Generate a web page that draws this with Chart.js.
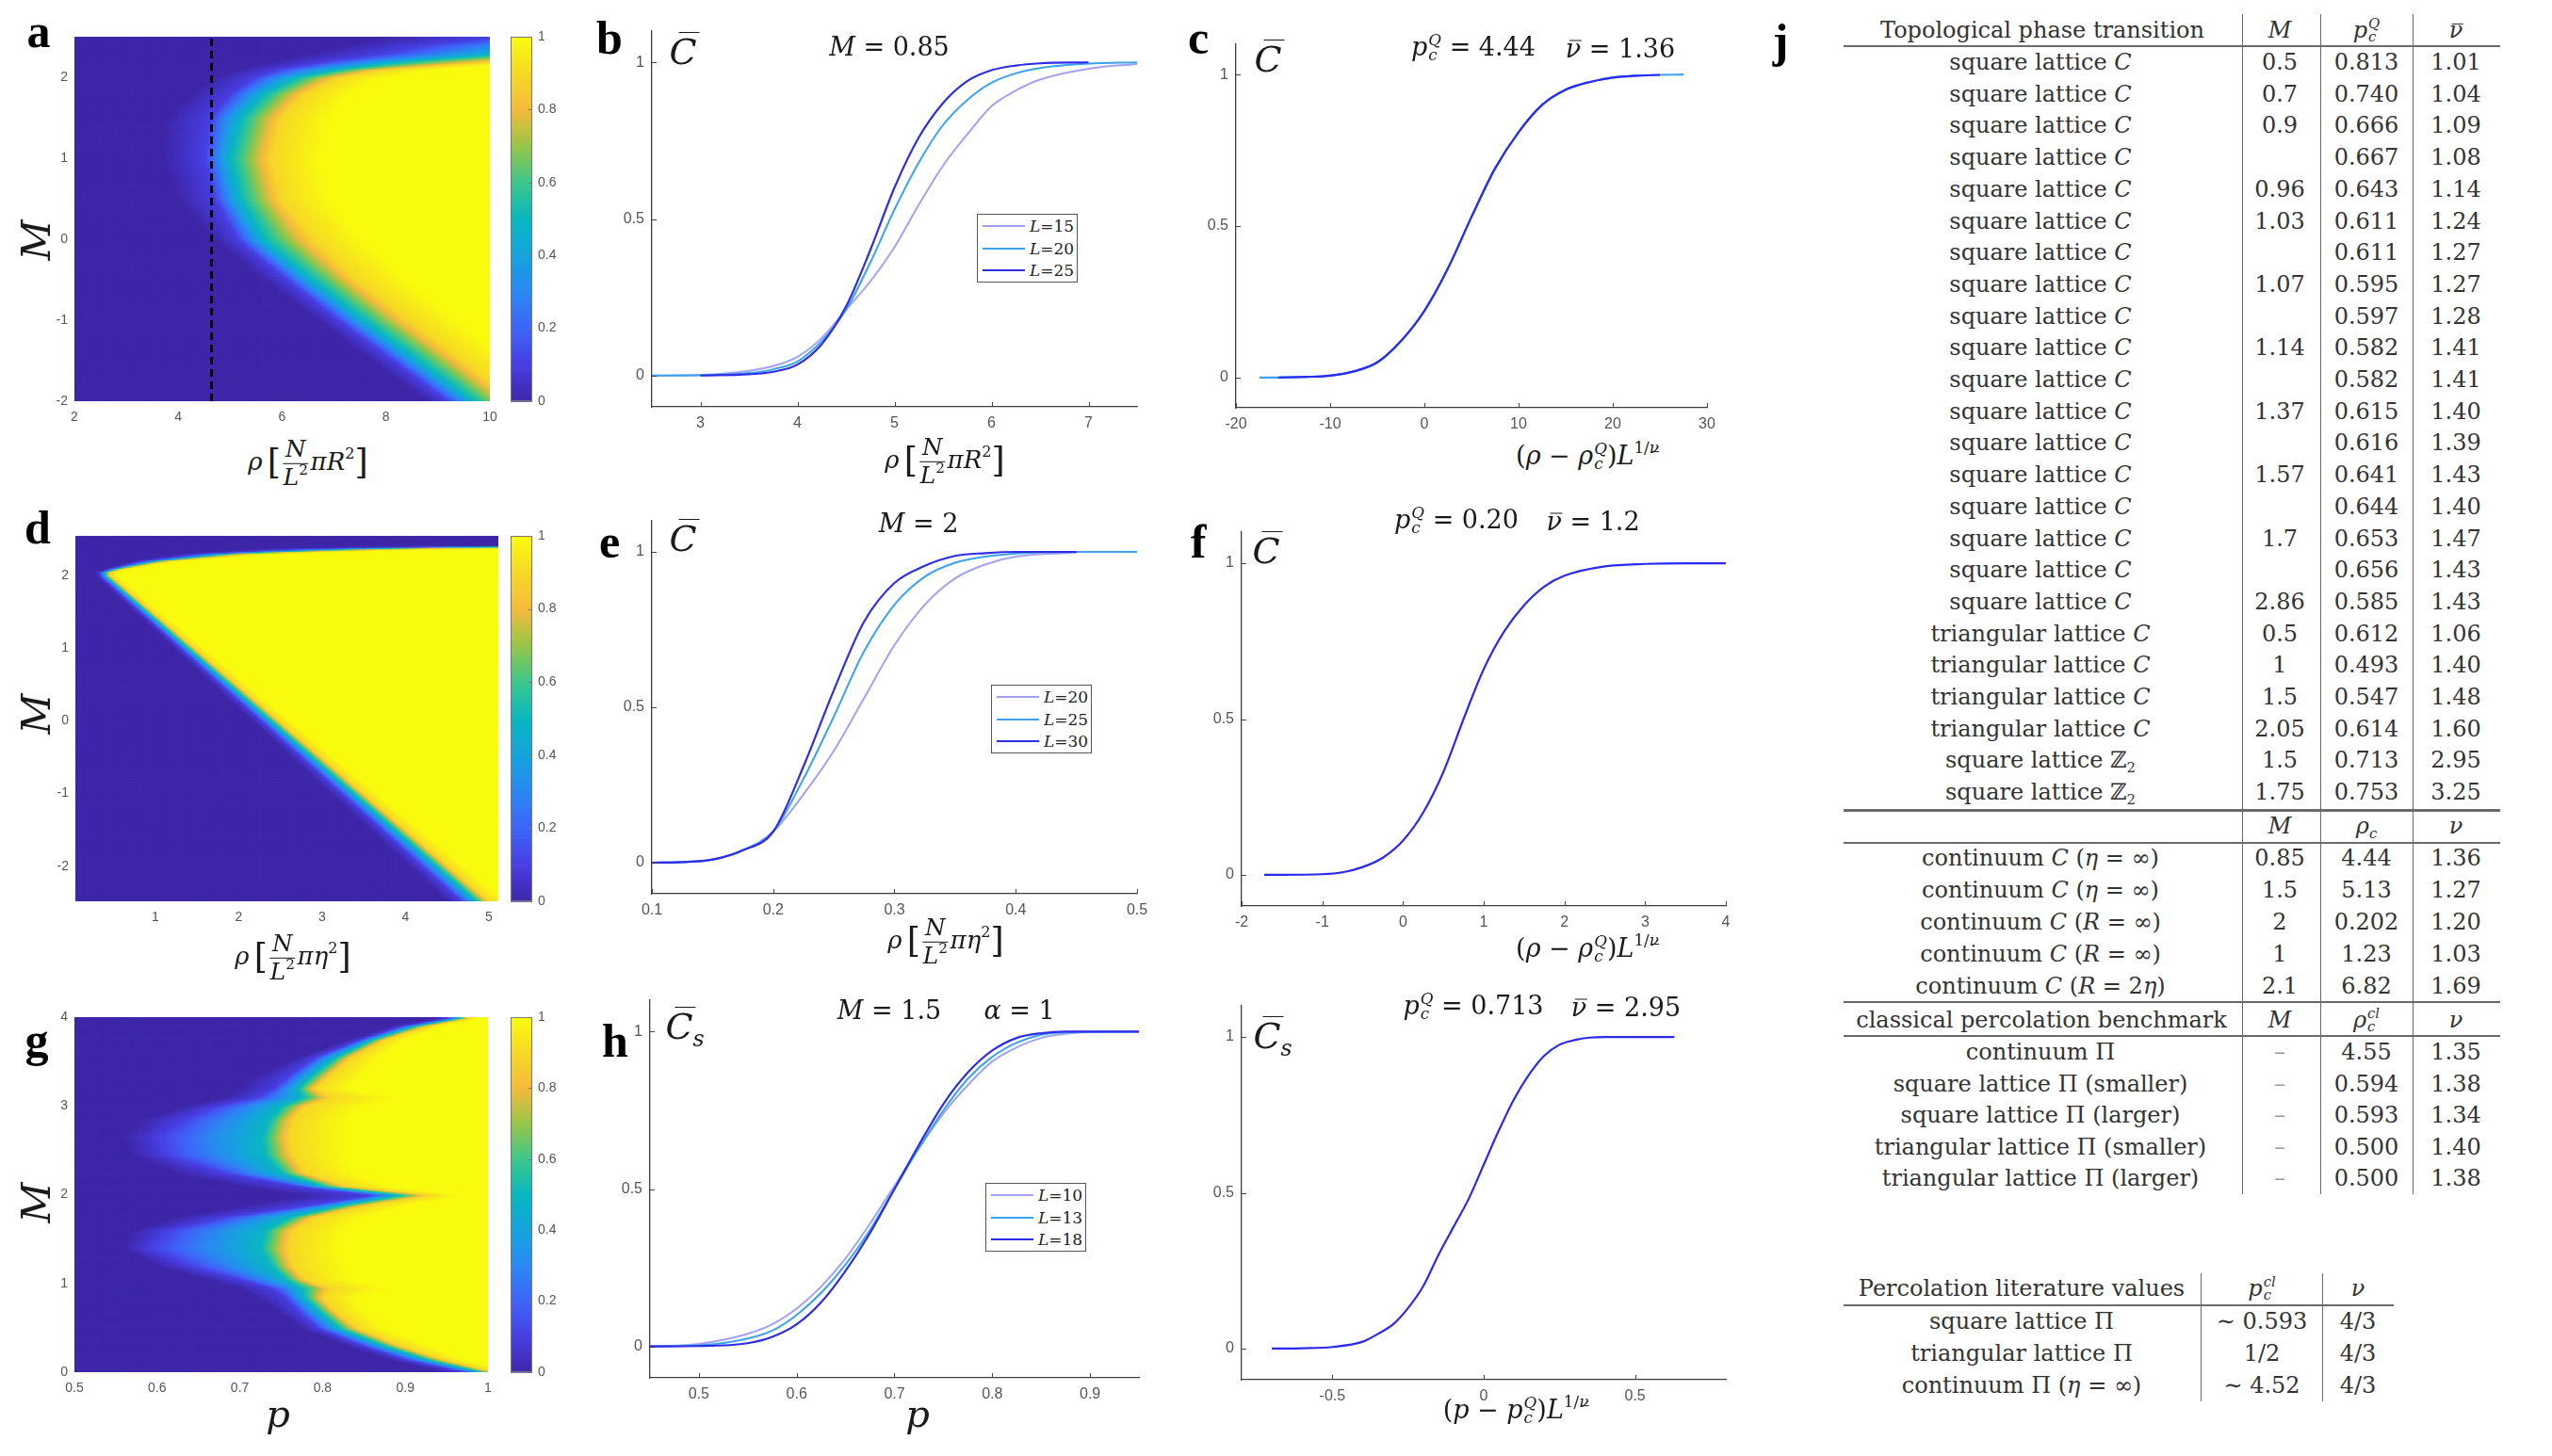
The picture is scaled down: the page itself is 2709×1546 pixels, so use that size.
<!DOCTYPE html>
<html><head><meta charset="utf-8">
<script src="https://cdn.jsdelivr.net/npm/chart.js@4.4.1/dist/chart.umd.min.js"></script>
<script>
// ================= DATA =================
// Heatmap rows: for each M, rho (or p) where C reaches 0, 0.1, 0.5, 0.9, 1
const aM    = [-2.0,-1.5,-1.0,-0.5, 0.0, 0.5, 1.0, 1.5, 1.8, 2.0, 2.1, 2.2, 2.3, 2.4, 2.5];
const aC0   = [ 8.8, 7.75,6.7, 5.65,4.7, 4.0, 3.7, 3.75,4.25,4.7, 5.15,5.75,6.5, 7.2, 8.0];
const aC10  = [ 9.2, 8.15,7.1, 6.1, 5.15,4.7, 4.5, 4.6, 5.0, 5.45,5.9, 6.85,7.95,8.7, 10.0];
const aC50  = [ 9.7, 8.65,7.6, 6.6, 5.65,5.2, 5.0, 5.2, 5.65,6.25,7.05,8.3, 10.3,11.5,14.0];
const aC90  = [10.5, 9.5, 8.45,7.45,6.6, 6.0, 5.8, 6.0, 6.45,7.1, 7.95,10.2,12.0,14.0,17.0];
const aC100 = [11.4,10.4, 9.4, 8.4, 7.6, 6.9, 6.75,6.95,7.3, 7.9, 9.0, 11.0,13.0,16.0,19.0];
const aDashRho = 4.64;
const aXTicks = [2,4,6,8,10], aYTicks = [-2,-1,0,1,2];

const dM    = [-2.48,2.0, 2.05,2.1, 2.2, 2.3, 2.35,2.38,2.41,2.45,2.54];
const dC0   = [4.51, 0.28,0.28,0.40,0.70,1.25,1.9, 2.4, 4.0, 18, 18];
const dC10  = [4.68, 0.34,0.34,0.47,0.85,1.55,2.4, 3.2, 5.0, 19, 19];
const dC50  = [4.86, 0.40,0.40,0.55,1.00,1.85,2.9, 3.9, 6.0, 20, 20];
const dC90  = [5.01, 0.46,0.46,0.63,1.15,2.15,3.4, 4.6, 7.0, 21, 21];
const dC100 = [5.21, 0.55,0.55,0.73,1.30,2.45,3.9, 5.4, 8.0, 22, 22];
const dXTicks = [1,2,3,4,5], dYTicks = [-2,-1,0,1,2];

const gM    = [0.0, 0.15,0.3, 0.5, 0.7, 0.85,0.95,1.05,1.2, 1.4, 1.6, 1.75,1.88,2.0, 2.1, 2.25,2.45,2.65,2.85,3.0, 3.1, 3.2, 3.35,3.55,3.75,3.9, 4.0];
const gC0   = [0.95,0.88,0.83,0.775,0.745,0.72,0.70,0.66,0.60,0.56,0.57,0.62,0.70,0.78,0.70,0.62,0.57,0.56,0.58,0.63,0.68,0.70,0.72,0.77,0.83,0.88,0.94];
const gC10  = [0.975,0.90,0.85,0.795,0.77,0.755,0.74,0.70,0.64,0.59,0.61,0.68,0.78,0.86,0.77,0.68,0.61,0.60,0.63,0.67,0.72,0.74,0.76,0.79,0.845,0.895,0.955];
const gC50  = [0.995,0.925,0.875,0.82,0.795,0.778,0.775,0.755,0.738,0.725,0.73,0.76,0.82,0.895,0.80,0.75,0.73,0.727,0.735,0.75,0.775,0.77,0.787,0.815,0.86,0.91,0.97];
const gC90  = [1.01,0.945,0.895,0.843,0.815,0.80,0.81,0.78,0.765,0.76,0.765,0.79,0.85,0.93,0.83,0.78,0.765,0.76,0.765,0.78,0.81,0.79,0.81,0.835,0.875,0.925,0.98];
const gC100 = [1.03,0.97,0.93,0.875,0.85,0.84,0.88,0.83,0.83,0.82,0.83,0.85,0.90,0.97,0.88,0.84,0.83,0.83,0.83,0.85,0.89,0.83,0.85,0.87,0.90,0.945,0.995];
const gXTicks = [0.5,0.6,0.7,0.8,0.9,1], gYTicks = [0,1,2,3,4];
const cbTicks = [0,0.2,0.4,0.6,0.8,1];

// Panel b (M = 0.85)
const bRho = [2.5,3,3.5,3.75,4,4.25,4.5,4.75,5,5.25,5.5,5.75,6,6.25,6.5,7,7.5];
const bL15 = [0,0.002,0.015,0.03,0.06,0.12,0.21,0.30,0.41,0.545,0.67,0.77,0.86,0.91,0.945,0.98,0.995];
const bL20 = [0,0.001,0.008,0.02,0.045,0.11,0.21,0.36,0.53,0.68,0.80,0.88,0.935,0.965,0.982,0.996,1];
const bL25 = [null,0,0.004,0.012,0.035,0.10,0.22,0.40,0.60,0.76,0.87,0.94,0.975,0.99,0.997,1,null];
const bXTicks = [3,4,5,6,7];
const bLegend = ['L=15','L=20','L=25'];

// Panel c (collapse)
const cX  = [-17.5,-15.5,-12.5,-10,-7.5,-5,-2.5,0,2.5,5,7.5,10,12.5,15,17.5,20,22.5,25,27.5];
const cY  = [0,0,0.002,0.006,0.02,0.05,0.12,0.22,0.36,0.53,0.69,0.81,0.90,0.95,0.975,0.99,0.996,0.999,1];
const cXTicks = [-20,-10,0,10,20,30];

// Panel e (M = 2)
const eRho = [0.1,0.125,0.15,0.175,0.2,0.225,0.25,0.275,0.3,0.325,0.35,0.375,0.4,0.45,0.5];
const eL20 = [0,0.002,0.01,0.04,0.10,0.22,0.36,0.53,0.70,0.83,0.915,0.96,0.985,0.998,null];
const eL25 = [0,0.002,0.01,0.04,0.10,0.27,0.47,0.68,0.83,0.92,0.965,0.985,0.995,1,1];
const eL30 = [0,0.002,0.01,0.04,0.10,0.31,0.555,0.776,0.90,0.955,0.987,0.996,1,1,null];
const eXTicks = [0.1,0.2,0.3,0.4,0.5];
const eLegend = ['L=20','L=25','L=30'];

// Panel f (collapse)
const fX = [-1.72,-1.5,-1,-0.75,-0.5,-0.25,0,0.25,0.5,0.75,1,1.25,1.5,1.75,2,2.5,3,3.5,4];
const fY = [0,0,0.002,0.008,0.025,0.055,0.11,0.2,0.33,0.5,0.66,0.78,0.865,0.925,0.96,0.99,0.998,1,1];
const fXTicks = [-2,-1,0,1,2,3,4];

// Panel h (M = 1.5, alpha = 1)
const hP   = [0.45,0.5,0.55,0.575,0.6,0.625,0.65,0.675,0.7,0.725,0.75,0.775,0.8,0.825,0.85,0.875,0.9,0.95];
const hL10 = [0,0.008,0.04,0.07,0.12,0.19,0.28,0.39,0.51,0.63,0.74,0.83,0.905,0.95,0.98,0.993,0.998,1];
const hL13 = [0,0.003,0.025,0.05,0.10,0.17,0.26,0.37,0.50,0.63,0.75,0.85,0.92,0.965,0.99,0.998,1,1];
const hL18 = [0,0.001,0.01,0.03,0.07,0.14,0.24,0.36,0.50,0.64,0.77,0.87,0.94,0.98,0.995,1,1,1];
const hXTicks = [0.5,0.6,0.7,0.8,0.9];
const hLegend = ['L=10','L=13','L=18'];

// Panel i (collapse)
const iX = [-0.7,-0.6,-0.5,-0.4,-0.35,-0.3,-0.25,-0.2,-0.15,-0.1,-0.05,0,0.05,0.1,0.15,0.2,0.25,0.3,0.35,0.4,0.5,0.63];
const iY = [0,0.001,0.005,0.022,0.047,0.077,0.13,0.2,0.3,0.39,0.48,0.59,0.7,0.8,0.88,0.94,0.975,0.99,0.998,1,1,1];
const iXTicks = [-0.5,0,0.5];
const yTicks01 = [0,0.5,1];

// Table j
const topoNames = ['square lattice <i>C</i>','square lattice <i>C</i>','square lattice <i>C</i>','square lattice <i>C</i>','square lattice <i>C</i>','square lattice <i>C</i>','square lattice <i>C</i>','square lattice <i>C</i>','square lattice <i>C</i>','square lattice <i>C</i>','square lattice <i>C</i>','square lattice <i>C</i>','square lattice <i>C</i>','square lattice <i>C</i>','square lattice <i>C</i>','square lattice <i>C</i>','square lattice <i>C</i>','square lattice <i>C</i>','triangular lattice <i>C</i>','triangular lattice <i>C</i>','triangular lattice <i>C</i>','triangular lattice <i>C</i>','square lattice ℤ<sub>2</sub>','square lattice ℤ<sub>2</sub>'];
const topoM  = ['0.5','0.7','0.9','','0.96','1.03','','1.07','','1.14','','1.37','','1.57','','1.7','','2.86','0.5','1','1.5','2.05','1.5','1.75'];
const topoPc = ['0.813','0.740','0.666','0.667','0.643','0.611','0.611','0.595','0.597','0.582','0.582','0.615','0.616','0.641','0.644','0.653','0.656','0.585','0.612','0.493','0.547','0.614','0.713','0.753'];
const topoNu = ['1.01','1.04','1.09','1.08','1.14','1.24','1.27','1.27','1.28','1.41','1.41','1.40','1.39','1.43','1.40','1.47','1.43','1.43','1.06','1.40','1.48','1.60','2.95','3.25'];
const contNames = ['continuum <i>C</i> (<i>η</i> = ∞)','continuum <i>C</i> (<i>η</i> = ∞)','continuum <i>C</i> (<i>R</i> = ∞)','continuum <i>C</i> (<i>R</i> = ∞)','continuum <i>C</i> (<i>R</i> = 2<i>η</i>)'];
const contM   = ['0.85','1.5','2','1','2.1'];
const contRho = ['4.44','5.13','0.202','1.23','6.82'];
const contNu  = ['1.36','1.27','1.20','1.03','1.69'];
const benchNames = ['continuum Π','square lattice Π (smaller)','square lattice Π (larger)','triangular lattice Π (smaller)','triangular lattice Π (larger)'];
const benchM   = ['–','–','–','–','–'];
const benchRho = ['4.55','0.594','0.593','0.500','0.500'];
const benchNu  = ['1.35','1.38','1.34','1.40','1.38'];
const litNames = ['square lattice Π','triangular lattice Π','continuum Π (<i>η</i> = ∞)'];
const litPc = ['∼ 0.593','1/2','∼ 4.52'];
const litNu = ['4/3','4/3','4/3'];
</script>
<style>
html,body{margin:0;padding:0;background:#fff;}
#page{position:relative;width:2709px;height:1546px;overflow:hidden;background:#fff;}
.m{position:absolute;white-space:nowrap;font-family:'DejaVu Serif',serif;line-height:1;color:#1a1a1a;transform:translate(-50%,-50%);}
.tb{position:absolute;white-space:nowrap;font-family:'DejaVu Serif',serif;line-height:1;color:#333;font-size:24px;transform:translate(-50%,-50%);}
.pl{position:absolute;font-family:'Liberation Serif',serif;font-weight:bold;font-size:50px;line-height:1;color:#000;transform:translate(-50%,-0.8375em);}
.fr{display:inline-flex;flex-direction:column;align-items:center;vertical-align:middle;font-size:0.95em;margin:0 2px;}
.fr .nu{border-bottom:1.6px solid #1a1a1a;padding:0 3px 2px;line-height:1;}
.fr .de{line-height:1;padding-top:2px;}
.ss{display:inline-flex;flex-direction:column;font-size:0.62em;line-height:0.95;vertical-align:0.68em;margin-left:1px;}
sup{font-size:0.62em;vertical-align:0.72em;line-height:0;}
sub{font-size:0.62em;vertical-align:-0.35em;line-height:0;}
.obx,.obc{position:relative;display:inline-block;}
.obx::before{content:'';position:absolute;left:22%;right:-2%;top:0.2em;border-top:0.06em solid currentColor;}
.obc::before{content:'';position:absolute;left:35%;right:-10%;top:-0.06em;border-top:0.05em solid currentColor;}
.br{font-size:1.4em;vertical-align:-0.12em;font-weight:normal;}
.hl{position:absolute;background:#6a6a6a;}
.lg{position:absolute;border:1.5px solid #555;background:#fff;box-sizing:border-box;}
.lg .ln{position:absolute;height:2px;}
.lg .lt{position:absolute;font-family:'DejaVu Serif',serif;font-size:17px;line-height:1;color:#222;transform:translateY(-50%);white-space:nowrap;}
</style>
</head>
<body><div id="page"></div>
<script>
const page = document.getElementById('page');
const YW = 50, XH = 30, PT = 20, PR = 24;
const TICKFONT = {family:"'Liberation Sans', Arial, sans-serif", size:16};
const HTICKFONT = {family:"'Liberation Sans', Arial, sans-serif", size:14};
const TICKCOL = '#555';
const COL_LAV = '#a2a2f4', COL_LB = '#3aa2ef', COL_DK = '#2d2de8', COL_ONE = '#2a2af2';

function mkCanvas(l,t,w,h){
  const c = document.createElement('canvas');
  c.width = w; c.height = h;
  c.style.cssText = `position:absolute;left:${l}px;top:${t}px;width:${w}px;height:${h}px;`;
  page.appendChild(c); return c;
}

// parula-like colormap
const PARULA = [[0,62,38,168],[0.1,71,62,226],[0.2,62,100,248],[0.3,42,136,242],[0.4,22,163,222],[0.5,8,183,192],[0.6,60,199,140],[0.7,150,198,72],[0.8,244,186,60],[0.9,246,216,38],[1,249,251,14]];
const LUT = [];
for (let k=0;k<=255;k++){
  const v=k/255; let s=0;
  while (s<PARULA.length-2 && v>PARULA[s+1][0]) s++;
  const a=PARULA[s], b=PARULA[s+1], t=(v-a[0])/(b[0]-a[0]);
  LUT.push(`rgb(${Math.round(a[1]+t*(b[1]-a[1]))},${Math.round(a[2]+t*(b[2]-a[2]))},${Math.round(a[3]+t*(b[3]-a[3]))})`);
}
const parula = v => LUT[Math.round(Math.max(0,Math.min(1,v))*255)];

const LEVELS = [0,0.1,0.5,0.9,1];
function contoursAt(f,m){
  const M=f.m, n=M.length;
  if (m<=M[0]) return f.c.map(a=>a[0]);
  if (m>=M[n-1]) return f.c.map(a=>a[n-1]);
  let k=0; while (k<n-2 && m>M[k+1]) k++;
  const t=(m-M[k])/(M[k+1]-M[k]);
  return f.c.map(a=>a[k]+t*(a[k+1]-a[k]));
}
function valueAt(c,x){
  if (x<=c[0]) return 0;
  if (x>=c[4]) return 1;
  for (let k=0;k<4;k++){
    if (x<=c[k+1]){
      const w=c[k+1]-c[k]; if (w<=1e-9) return LEVELS[k+1];
      return LEVELS[k]+(LEVELS[k+1]-LEVELS[k])*(x-c[k])/w;
    }
  }
  return 1;
}
function heatPlugin(field,nx,ny){
  return {id:'heat', beforeDatasetsDraw(chart){
    const xs=chart.scales.x, ys=chart.scales.y, ctx=chart.ctx, a=chart.chartArea;
    ctx.save(); ctx.beginPath(); ctx.rect(a.left,a.top,a.right-a.left,a.bottom-a.top); ctx.clip();
    const dx=(xs.max-xs.min)/nx, dy=(ys.max-ys.min)/ny;
    for (let j=0;j<ny;j++){
      const m0=ys.min+j*dy, c=contoursAt(field,m0+dy/2);
      const yb=ys.getPixelForValue(m0), yt=ys.getPixelForValue(m0+dy);
      for (let i=0;i<nx;i++){
        const x0=xs.min+i*dx;
        const xl=xs.getPixelForValue(x0), xr=xs.getPixelForValue(x0+dx);
        ctx.fillStyle=parula(valueAt(c,x0+dx/2));
        ctx.fillRect(xl,yt,xr-xl+0.7,yb-yt+0.7);
      }
    }
    ctx.restore();
  }};
}
const innerTicks = {id:'innerTicks', afterDraw(chart){
  const ctx=chart.ctx, a=chart.chartArea, x=chart.scales.x, y=chart.scales.y;
  ctx.save(); ctx.strokeStyle='#444'; ctx.lineWidth=1;
  x.ticks.forEach(t=>{const p=Math.round(x.getPixelForValue(t.value))+0.5; ctx.beginPath(); ctx.moveTo(p,a.bottom); ctx.lineTo(p,a.bottom-5); ctx.stroke();});
  y.ticks.forEach(t=>{const p=Math.round(y.getPixelForValue(t.value))+0.5; ctx.beginPath(); ctx.moveTo(a.left,p); ctx.lineTo(a.left+5,p); ctx.stroke();});
  ctx.restore();
}};
const cbPlugin = {id:'cb', beforeDatasetsDraw(chart){
  const ctx=chart.ctx, a=chart.chartArea, y=chart.scales.y, N=200;
  for (let k=0;k<N;k++){
    const v0=k/N, v1=(k+1)/N;
    const p0=y.getPixelForValue(v0), p1=y.getPixelForValue(v1);
    ctx.fillStyle=parula((v0+v1)/2); ctx.fillRect(a.left,p1,a.right-a.left,p0-p1+0.7);
  }
  ctx.save(); ctx.strokeStyle='#777'; ctx.lineWidth=1;
  ctx.strokeRect(a.left+0.5,a.top+0.5,a.right-a.left-1,a.bottom-a.top-1);
  y.ticks.forEach(t=>{const p=Math.round(y.getPixelForValue(t.value))+0.5; ctx.beginPath(); ctx.moveTo(a.right-4,p); ctx.lineTo(a.right,p); ctx.stroke();});
  ctx.restore();
}};

function axisOpts(min,max,ticks,fit,pad,font,extra){
  return Object.assign({type:'linear',min,max,
    afterBuildTicks:s=>{s.ticks=ticks.map(v=>({value:v}));},
    afterFit:fit,
    grid:{display:false,drawTicks:false},
    border:{display:true,color:'#3c3c3c',width:1.3},
    ticks:{color:TICKCOL,font:font,padding:pad,autoSkip:false,maxRotation:0,callback:(v,i)=>String(ticks[i])}
  }, extra||{});
}
const baseOpts = () => ({responsive:false,animation:false,devicePixelRatio:1,events:[],
  layout:{padding:{top:PT,right:PR,left:0,bottom:0}},
  plugins:{legend:{display:false},tooltip:{enabled:false}},
  elements:{point:{radius:0}}});

function ser(xs,ys,color,width,order){
  return {data:xs.map((x,i)=>({x,y:ys[i]})),borderColor:color,borderWidth:width,order,fill:false,pointRadius:0,spanGaps:false,cubicInterpolationMode:'monotone'};
}
function linePlot(box,xr,xt,datasets){
  const cv=mkCanvas(box.l-YW,box.t-PT,box.r-box.l+YW+PR,box.b-box.t+PT+XH);
  const o=baseOpts();
  o.scales={x:axisOpts(xr[0],xr[1],xt,s=>{s.height=XH;},8,TICKFONT), y:axisOpts(-0.1,1.1,yTicks01,s=>{s.width=YW;},8,TICKFONT)};
  return new Chart(cv,{type:'line',data:{datasets},options:o,plugins:[innerTicks]});
}
function heatPlot(box,xr,yr,xt,yt,field,datasets){
  const cv=mkCanvas(box.l-YW,box.t-PT,box.r-box.l+YW+PR,box.b-box.t+PT+XH);
  const o=baseOpts();
  o.scales={x:axisOpts(xr[0],xr[1],xt,s=>{s.height=XH;},9,HTICKFONT,{border:{display:false}}),
            y:axisOpts(yr[0],yr[1],yt,s=>{s.width=YW;},7,HTICKFONT,{border:{display:false}})};
  return new Chart(cv,{type:'scatter',data:{datasets:datasets||[]},options:o,plugins:[heatPlugin(field,260,260)]});
}
function colorbar(box){
  const cv=mkCanvas(box.l,box.t-PT,box.r-box.l+40,box.b-box.t+PT+20);
  const o=baseOpts();
  o.layout={padding:{top:PT,bottom:20,left:0,right:0}};
  o.scales={x:{display:false,min:0,max:1},
    y:axisOpts(0,1,cbTicks,s=>{s.width=40;},6,HTICKFONT,{position:'right',border:{display:false}})};
  return new Chart(cv,{type:'scatter',data:{datasets:[]},options:o,plugins:[cbPlugin]});
}

// ---------------- Heatmaps ----------------
heatPlot({l:79,r:520,t:39,b:426},[2,10],[-2,2.5],aXTicks,aYTicks,
  {m:aM,c:[aC0,aC10,aC50,aC90,aC100]},
  [{type:'line',data:[{x:aDashRho,y:-2},{x:aDashRho,y:2.5}],borderColor:'#000',borderWidth:3,borderDash:[8,5],pointRadius:0,showLine:true}]);
colorbar({l:542,r:565,t:39,b:426});
heatPlot({l:80,r:529,t:569,b:957},[0.04,5.115],[-2.48,2.54],dXTicks,dYTicks,{m:dM,c:[dC0,dC10,dC50,dC90,dC100]});
colorbar({l:542,r:565,t:569,b:957});
heatPlot({l:79,r:518,t:1080,b:1457},[0.5,1],[0,4],gXTicks,gYTicks,{m:gM,c:[gC0,gC10,gC50,gC90,gC100]});
colorbar({l:542,r:565,t:1080,b:1457});

// ---------------- Line plots ----------------
linePlot({l:692,r:1207,t:33,b:432},[2.5,7.5],bXTicks,[
  ser(bRho,bL15,COL_LAV,2,3), ser(bRho,bL20,COL_LB,2,2), ser(bRho,bL25,COL_DK,2.2,1)]);
const cDark = cY.map((y,i)=>(i===0||i===cY.length-1)?null:y);
linePlot({l:1312,r:1812,t:47,b:433},[-20,30],cXTicks,[
  ser(cX,cY,COL_LB,2.2,2), ser(cX,cDark,COL_ONE,2.2,1)]);
linePlot({l:692,r:1207,t:553,b:949},[0.1,0.5],eXTicks,[
  ser(eRho,eL20,COL_LAV,2,3), ser(eRho,eL25,COL_LB,2,2), ser(eRho,eL30,COL_DK,2.2,1)]);
linePlot({l:1318,r:1832,t:565,b:962},[-2,4],fXTicks,[ser(fX,fY,COL_ONE,2.2,1)]);
linePlot({l:690,r:1209,t:1062,b:1463},[0.45,0.95],hXTicks,[
  ser(hP,hL10,COL_LAV,2,3), ser(hP,hL13,COL_LB,2,2), ser(hP,hL18,COL_DK,2.2,1)]);
linePlot({l:1318,r:1832,t:1068,b:1465},[-0.8,0.8],iXTicks,[ser(iX,iY,COL_ONE,2.2,1)]);

// ---------------- Text overlays ----------------
function put(x,y,html,cls,style){
  const d=document.createElement('div'); d.className=cls||'m';
  d.style.left=x+'px'; d.style.top=y+'px';
  if (style) d.style.cssText+=style;
  d.innerHTML=html; page.appendChild(d); return d;
}
const frac=(n,d)=>`<span class="fr"><span class="nu">${n}</span><span class="de">${d}</span></span>`;
const ss=(sup,sub)=>`<span class="ss"><span>${sup}</span><span>${sub}</span></span>`;
const nubar='<span class="obx"><i>ν</i></span>';
const pcQ=`<i>p</i>${ss('<i>Q</i>','<i>c</i>')}`;
const rhoR=`<i>ρ</i>&#8201;<span class="br">[</span>${frac('<i>N</i>','<i>L</i><sup>2</sup>')}<i>π</i><i>R</i><sup>2</sup><span class="br">]</span>`;
const rhoEta=`<i>ρ</i>&#8201;<span class="br">[</span>${frac('<i>N</i>','<i>L</i><sup>2</sup>')}<i>π</i><i>η</i><sup>2</sup><span class="br">]</span>`;
const scaleRho=`(<i>ρ</i> − <i>ρ</i>${ss('<i>Q</i>','<i>c</i>')})<i>L</i><sup>1/${nubar}</sup>`;
const scaleP=`(<i>p</i> − <i>p</i>${ss('<i>Q</i>','<i>c</i>')})<i>L</i><sup>1/${nubar}</sup>`;
const Cbar='<span class="obc"><i>C</i></span>';
const Cs=`${Cbar}<sub><i>s</i></sub>`;

// panel letters (baseline positioned)
[['a',41,50],['b',647,57],['c',1272,57],['d',40,577],['e',647,592],['f',1272,592],['g',39,1121],['h',653,1122],['j',1890,60]]
  .forEach(([t,x,y])=>put(x,y,t,'pl'));

// y labels (M)
[255,758,1277].forEach(y=>put(39,y,'<i>M</i>','m','font-size:42px;transform:translate(-50%,-50%) rotate(-90deg);'));
// x labels
put(327,492,rhoR,'m','font-size:26px;');
put(1003,490,rhoR,'m','font-size:26px;');
put(311,1017,rhoEta,'m','font-size:26px;');
put(1004,1000,rhoEta,'m','font-size:26px;');
put(1685,485,scaleRho,'m','font-size:27px;');
put(1685,1008,scaleRho,'m','font-size:27px;');
put(1609,1498,scaleP,'m','font-size:27px;');
put(295,1501,'<i>p</i>','m','font-size:40px;');
put(974,1501,'<i>p</i>','m','font-size:40px;');
// C-bar markers
put(725,55,Cbar,'m','font-size:38px;');
put(1346,63,Cbar,'m','font-size:38px;');
put(725,572,Cbar,'m','font-size:38px;');
put(1344,585,Cbar,'m','font-size:38px;');
put(727,1090,Cs,'m','font-size:38px;');
put(1351,1100,Cs,'m','font-size:38px;');
// titles
put(944,49,'<i>M</i>&nbsp;=&nbsp;0.85','m','font-size:27px;');
put(1564,51,`${pcQ}&nbsp;=&nbsp;4.44`,'m','font-size:27px;');
put(1720,51,`${nubar}&nbsp;=&nbsp;1.36`,'m','font-size:27px;');
put(975,555,'<i>M</i>&nbsp;=&nbsp;2','m','font-size:27px;');
put(1546,553,`${pcQ}&nbsp;=&nbsp;0.20`,'m','font-size:27px;');
put(1691,553,`${nubar}&nbsp;=&nbsp;1.2`,'m','font-size:27px;');
put(944,1072,'<i>M</i>&nbsp;=&nbsp;1.5','m','font-size:27px;');
put(1082,1072,'<i>α</i>&nbsp;=&nbsp;1','m','font-size:27px;');
put(1564,1069,`${pcQ}&nbsp;=&nbsp;0.713`,'m','font-size:27px;');
put(1726,1069,`${nubar}&nbsp;=&nbsp;2.95`,'m','font-size:27px;');

// legends
function legend(l,t,labels,colors){
  const d=document.createElement('div'); d.className='lg';
  d.style.cssText=`left:${l}px;top:${t}px;width:107px;height:73px;`;
  [12,36,59].forEach((dy,k)=>{
    const ln=document.createElement('div'); ln.className='ln';
    ln.style.cssText=`left:5px;top:${dy-1}px;width:45px;background:${colors[k]};`;
    d.appendChild(ln);
    const tx=document.createElement('div'); tx.className='lt';
    tx.style.cssText=`left:55px;top:${dy}px;`;
    const [a,b]=labels[k].split('=');
    tx.innerHTML=`<i>${a}</i>=${b}`; d.appendChild(tx);
  });
  page.appendChild(d);
}
legend(1037,227,bLegend,[COL_LAV,COL_LB,COL_DK]);
legend(1052,727,eLegend,[COL_LAV,COL_LB,COL_DK]);
legend(1046,1256,hLegend,[COL_LAV,COL_LB,COL_DK]);

// ---------------- Table j ----------------
function hline(x1,x2,y,w){const d=document.createElement('div');d.className='hl';d.style.cssText=`left:${x1}px;top:${y-w/2}px;width:${x2-x1}px;height:${w}px;`;page.appendChild(d);}
function vline(x,y1,y2){const d=document.createElement('div');d.className='hl';d.style.cssText=`left:${x-0.5}px;top:${y1}px;width:1.2px;height:${y2-y1}px;`;page.appendChild(d);}
const TX={n:2166,M:2420,p:2512,v:2607};
const tc=(x,y,h)=>put(x,y,h,'tb');
tc(2168,32,'Topological phase transition'); tc(TX.M,32,'<i>M</i>'); tc(TX.p,32,pcQ); tc(TX.v,32,nubar);
topoNames.forEach((n,k)=>{const y=66+33.7*k; tc(TX.n,y,n); if(topoM[k]) tc(TX.M,y,topoM[k]); tc(TX.p,y,topoPc[k]); tc(TX.v,y,topoNu[k]);});
tc(TX.M,877,'<i>M</i>'); tc(TX.p,877,`<i>ρ</i><sub><i>c</i></sub>`); tc(TX.v,877,'<i>ν</i>');
contNames.forEach((n,k)=>{const y=911+33.9*k; tc(TX.n,y,n); tc(TX.M,y,contM[k]); tc(TX.p,y,contRho[k]); tc(TX.v,y,contNu[k]);});
tc(2167,1083,'classical percolation benchmark'); tc(TX.M,1083,'<i>M</i>'); tc(TX.p,1083,`<i>ρ</i>${ss('<i>cl</i>','<i>c</i>')}`); tc(TX.v,1083,'<i>ν</i>');
benchNames.forEach((n,k)=>{const y=1117+33.5*k; tc(TX.n,y,n); put(TX.M,y,benchM[k],'tb','color:#999;'); tc(TX.p,y,benchRho[k]); tc(TX.v,y,benchNu[k]);});
hline(1957,2654,49,2); hline(1957,2654,860,3); hline(1957,2654,895,2.5); hline(1957,2654,1064,2.5); hline(1957,2654,1100,2.5);
vline(2380,15,1268); vline(2463,15,1268); vline(2561,15,1268);
// literature table
tc(2146,1368,'Percolation literature values'); tc(2401,1368,`<i>p</i>${ss('<i>cl</i>','<i>c</i>')}`); tc(2503,1368,'<i>ν</i>');
litNames.forEach((n,k)=>{const y=1403+34*k; tc(2146,y,n); tc(2401,y,litPc[k]); tc(2503,y,litNu[k]);});
hline(1957,2541,1386,2); vline(2336,1352,1488); vline(2465,1352,1488);
</script>
</body></html>
